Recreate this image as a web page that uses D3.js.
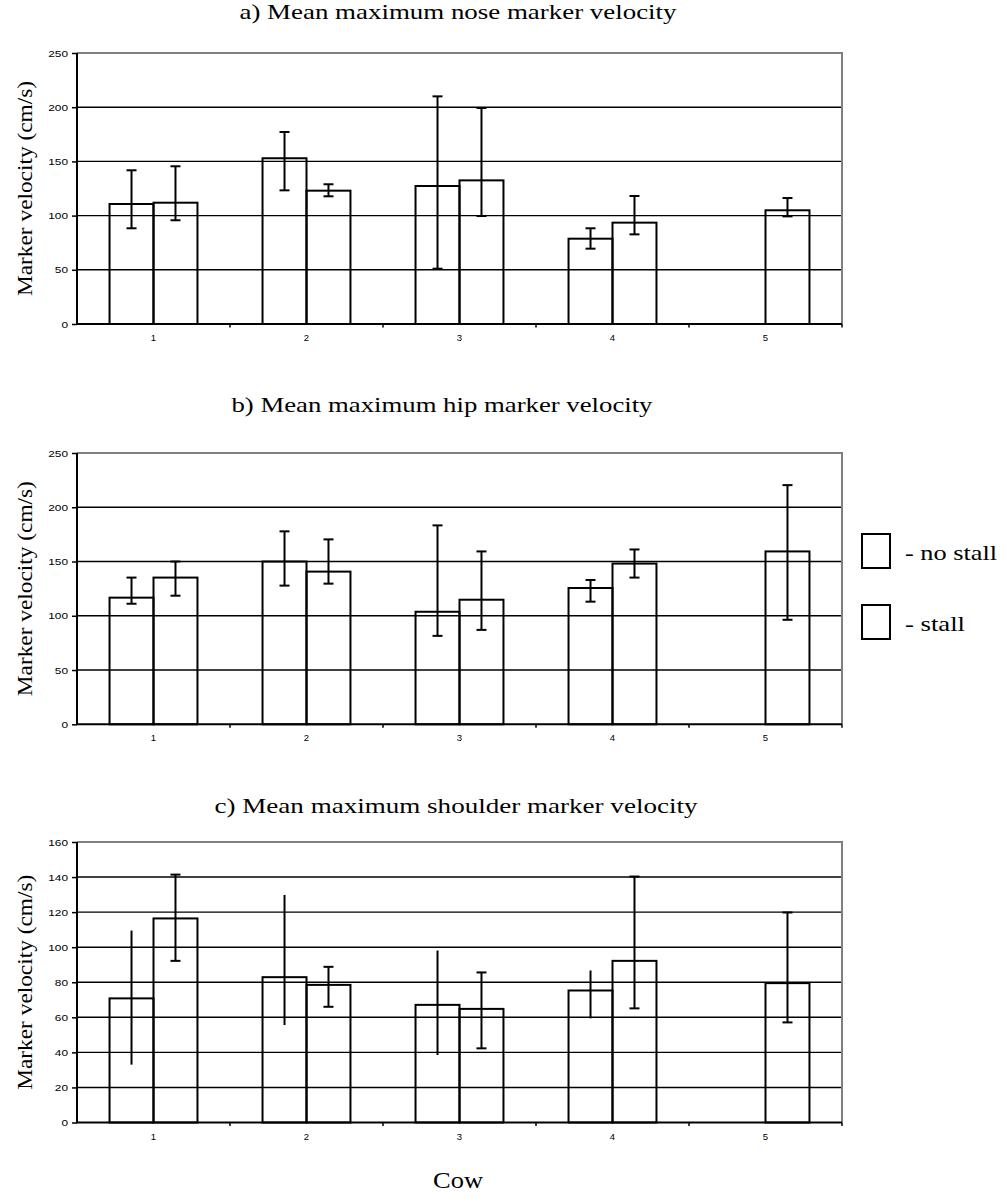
<!DOCTYPE html>
<html>
<head>
<meta charset="utf-8">
<script src="https://cdn.jsdelivr.net/npm/d3@7"></script>
<style>
  body { margin: 0; background: #fff; }
  svg { display: block; }
</style>
</head>
<body>
<svg id="fig" width="1006" height="1197"></svg>
<script>
// Cows on the x axis, two housing conditions per cow
const cows = ["1", "2", "3", "4", "5"];
const conditions = ["no stall", "stall"];

// a) nose marker: means with lower / upper error-bar ends (cm/s)
const noseNoStall   = [110.7, 152.9, 127.3, 78.7, null];
const noseNoStallLo = [88.3, 123.3, 51.0, 69.5, null];
const noseNoStallHi = [141.8, 177.1, 210.0, 88.3, null];
const noseStall     = [111.9, 123.0, 132.5, 93.5, 104.9];
const noseStallLo   = [95.7, 117.8, 99.6, 82.7, 99.3];
const noseStallHi   = [145.5, 128.9, 199.3, 118.1, 116.2];

// b) hip marker
const hipNoStall   = [116.7, 150.0, 103.7, 125.6, null];
const hipNoStallLo = [111.1, 127.8, 81.5, 113.0, null];
const hipNoStallHi = [135.2, 177.8, 183.3, 133.0, null];
const hipStall     = [135.2, 140.7, 114.8, 148.1, 159.3];
const hipStallLo   = [118.5, 129.6, 87.0, 135.2, 96.3];
const hipStallHi   = [150.0, 170.4, 159.3, 161.1, 220.4];

// c) shoulder marker
const shoulderNoStall   = [70.8, 82.9, 67.1, 75.3, null];
const shoulderNoStallLo = [33.0, 55.6, 38.5, 59.4, null];
const shoulderNoStallHi = [109.5, 129.8, 98.1, 86.7, null];
const shoulderStall     = [116.4, 78.5, 64.8, 92.2, 79.5];
const shoulderStallLo   = [92.2, 66.0, 42.3, 65.1, 57.1];
const shoulderStallHi   = [141.4, 88.8, 85.6, 140.3, 119.8];

// Tick labels for the value axes
const ticksVel250 = [0, 50, 100, 150, 200, 250];
const ticksVel160 = [0, 20, 40, 60, 80, 100, 120, 140, 160];

const panelTitles = [
  "a) Mean maximum nose marker velocity",
  "b) Mean maximum hip marker velocity",
  "c) Mean maximum shoulder marker velocity"
];
const yAxisLabel = "Marker velocity (cm/s)";
const xAxisLabel = "Cow";

const SERIF = "'Liberation Serif', 'Times New Roman', Times, serif";
const SANS = "'Liberation Sans', Arial, Helvetica, sans-serif";

const panels = [
  { title: panelTitles[0], tcx: 458, tw: 437, ty: 19, top: 53, bottom: 324, max: 250, ticks: ticksVel250,
    series: [
      { mean: noseNoStall, lo: noseNoStallLo, hi: noseNoStallHi, caps: true },
      { mean: noseStall, lo: noseStallLo, hi: noseStallHi, caps: true }
    ] },
  { title: panelTitles[1], tcx: 442, tw: 421, ty: 412, top: 453, bottom: 724.3, max: 250, ticks: ticksVel250,
    series: [
      { mean: hipNoStall, lo: hipNoStallLo, hi: hipNoStallHi, caps: true },
      { mean: hipStall, lo: hipStallLo, hi: hipStallHi, caps: true }
    ] },
  { title: panelTitles[2], tcx: 456, tw: 483, ty: 813, top: 842, bottom: 1122.5, max: 160, ticks: ticksVel160,
    series: [
      { mean: shoulderNoStall, lo: shoulderNoStallLo, hi: shoulderNoStallHi, caps: false },
      { mean: shoulderStall, lo: shoulderStallLo, hi: shoulderStallHi, caps: true }
    ] }
];

const svg = d3.select("#fig");
const left = 77, right = 842;

const x = d3.scaleBand().domain(cows).range([left, right]).paddingInner(0).paddingOuter(0);
const xInner = d3.scaleBand().domain(conditions).range([0, x.bandwidth()]).paddingInner(0).paddingOuter(0.74);

panels.forEach(p => {
  const g = svg.append("g");
  const y = d3.scaleLinear().domain([0, p.max]).range([p.bottom, p.top]);

  // panel title (the figure's type is set wide)
  g.append("text")
    .attr("x", p.tcx).attr("y", p.ty)
    .attr("text-anchor", "middle")
    .attr("font-family", SERIF).attr("font-size", 21)
    .attr("textLength", p.tw).attr("lengthAdjust", "spacingAndGlyphs")
    .text(p.title);

  // horizontal gridlines
  g.append("g").selectAll("line")
    .data(p.ticks.filter(t => t > 0 && t < p.max))
    .join("line")
    .attr("x1", left).attr("x2", right)
    .attr("y1", d => y(d)).attr("y2", d => y(d))
    .attr("stroke", "#000").attr("stroke-width", 1.4);

  // grey frame on top and right
  g.append("path")
    .attr("d", `M${left},${y(p.max)}H${right}V${y(0)}`)
    .attr("fill", "none").attr("stroke", "#808080").attr("stroke-width", 2);

  // bars
  p.series.forEach((s, si) => {
    const cond = conditions[si];
    const pts = cows.map((c, i) => ({ c, v: s.mean[i], lo: s.lo[i], hi: s.hi[i] }))
      .filter(d => d.v != null);

    g.append("g").selectAll("rect")
      .data(pts).join("rect")
      .attr("x", d => x(d.c) + xInner(cond))
      .attr("y", d => y(d.v))
      .attr("width", xInner.bandwidth())
      .attr("height", d => y(0) - y(d.v))
      .attr("fill", "none").attr("stroke", "#000").attr("stroke-width", 2);

    // error bars
    const eb = g.append("g").attr("stroke", "#000").attr("stroke-width", 2);
    const cx = d => x(d.c) + xInner(cond) + xInner.bandwidth() / 2;
    eb.selectAll("line.v").data(pts).join("line").attr("class", "v")
      .attr("x1", cx).attr("x2", cx)
      .attr("y1", d => y(d.lo)).attr("y2", d => y(d.hi));
    if (s.caps) {
      ["lo", "hi"].forEach(k => {
        eb.selectAll("line.cap-" + k).data(pts).join("line").attr("class", "cap-" + k)
          .attr("x1", d => cx(d) - 5).attr("x2", d => cx(d) + 5)
          .attr("y1", d => y(d[k])).attr("y2", d => y(d[k]));
      });
    }
  });

  // value axis
  const yAxis = d3.axisLeft(y).tickValues(p.ticks).tickSize(5).tickPadding(4).tickFormat(d3.format("d"));
  const ya = g.append("g").attr("transform", `translate(${left},0)`).call(yAxis);
  ya.select(".domain").remove();
  ya.selectAll(".tick line").attr("stroke", "#000").attr("stroke-width", 1.5);
  ya.selectAll(".tick text")
    .attr("font-family", SANS).attr("font-size", 9.5).attr("fill", "#000")
    .attr("textLength", d => String(d).length * 6.6).attr("lengthAdjust", "spacingAndGlyphs");

  // category axis: ticks between cows, labels centred under each cow
  const bounds = cows.map(c => x(c)).concat([right]).slice(1);
  g.append("g").selectAll("line").data(bounds).join("line")
    .attr("x1", d => d).attr("x2", d => d)
    .attr("y1", y(0)).attr("y2", y(0) + 3.5)
    .attr("stroke", "#000").attr("stroke-width", 1.5);
  g.append("g").selectAll("text").data(cows).join("text")
    .attr("x", d => x(d) + x.bandwidth() / 2)
    .attr("y", y(0) + 17)
    .attr("text-anchor", "middle")
    .attr("font-family", SANS).attr("font-size", 9.5)
    .text(d => d);

  // axis lines
  g.append("path")
    .attr("d", `M${left},${y(p.max)}V${y(0)}H${right}`)
    .attr("fill", "none").attr("stroke", "#000").attr("stroke-width", 2);

  // y-axis title
  g.append("text")
    .attr("transform", `translate(32,${(p.top + p.bottom) / 2}) rotate(-90)`)
    .attr("text-anchor", "middle")
    .attr("font-family", SERIF).attr("font-size", 22)
    .attr("textLength", 215).attr("lengthAdjust", "spacingAndGlyphs")
    .text(yAxisLabel);
});

// shared x-axis title
svg.append("text")
  .attr("x", 458).attr("y", 1188)
  .attr("text-anchor", "middle")
  .attr("font-family", SERIF).attr("font-size", 23)
  .attr("textLength", 50).attr("lengthAdjust", "spacingAndGlyphs")
  .text(xAxisLabel);

// legend
const legend = svg.append("g");
const legendRows = [
  { label: "- " + conditions[0], y: 534, tw: 92 },
  { label: "- " + conditions[1], y: 605, tw: 60 }
];
legendRows.forEach(r => {
  legend.append("rect")
    .attr("x", 862).attr("y", r.y).attr("width", 28).attr("height", 34)
    .attr("fill", "none").attr("stroke", "#000").attr("stroke-width", 2);
  legend.append("text")
    .attr("x", 905).attr("y", r.y + 26)
    .attr("font-family", SERIF).attr("font-size", 21)
    .attr("textLength", r.tw).attr("lengthAdjust", "spacingAndGlyphs")
    .text(r.label);
});
</script>
</body>
</html>
